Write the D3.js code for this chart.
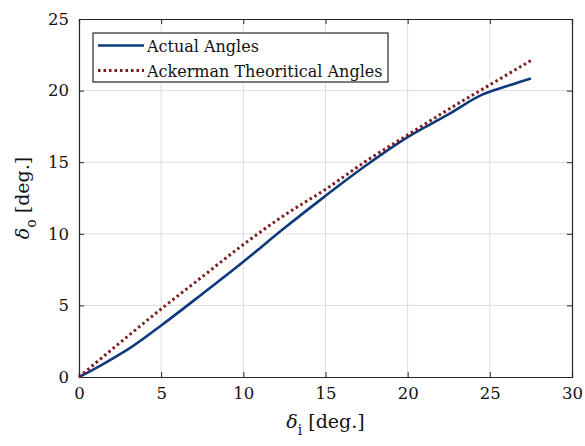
<!DOCTYPE html>
<html><head><meta charset="utf-8">
<script src="https://cdn.jsdelivr.net/npm/d3@7"></script>
<style>body{margin:0;background:#fff}svg{display:block}text{font-family:"DejaVu Serif",serif;fill:#111}</style>
</head><body><div id="c"></div>
<script>
const xTicks = [0,5,10,15,20,25,30];
const yTicks = [0,5,10,15,20,25];
const actualX = [0,1,2.5,3,5,7.5,10,12.5,15,17.5,20,22.5,24.5,26,27.5];
const actualY = [0,0.6,1.6,1.95,3.6,5.8,8.05,10.4,12.65,14.8,16.75,18.35,19.7,20.3,20.85];
const ackX = [0,2.5,5,7.5,10,12.5,15,17.5,20,22.5,25,27.5];
const ackY = [0,2.4,4.75,7.0,9.25,11.3,13.1,15.1,16.9,18.7,20.4,22.1];
const seriesNames = ["Actual Angles","Ackerman Theoritical Angles"];

const W=585,H=446, L=79,R=572,T=19,B=377;
const svg=d3.select("#c").append("svg").attr("width",W).attr("height",H);
const x=d3.scaleLinear().domain([0,30]).range([L,R]);
const y=d3.scaleLinear().domain([0,25]).range([B,T]);

// grid
svg.append("g").selectAll("line").data(xTicks.slice(1,-1)).join("line")
 .attr("x1",d=>x(d)).attr("x2",d=>x(d)).attr("y1",T).attr("y2",B).attr("stroke","#dcdcdc").attr("stroke-width",1);
svg.append("g").selectAll("line").data(yTicks.slice(1,-1)).join("line")
 .attr("y1",d=>y(d)).attr("y2",d=>y(d)).attr("x1",L).attr("x2",R).attr("stroke","#dcdcdc").attr("stroke-width",1);

// axes
const ax=svg.append("g").attr("transform",`translate(0,${B})`).call(d3.axisBottom(x).tickValues(xTicks).tickSize(-5).tickPadding(10));
const ay=svg.append("g").attr("transform",`translate(${L},0)`).call(d3.axisLeft(y).tickValues(yTicks).tickSize(-5).tickPadding(10));
const at=svg.append("g").attr("transform",`translate(0,${T})`).call(d3.axisTop(x).tickValues(xTicks).tickSize(-5).tickFormat(""));
const ar=svg.append("g").attr("transform",`translate(${R},0)`).call(d3.axisRight(y).tickValues(yTicks).tickSize(-5).tickFormat(""));
[ax,ay,at,ar].forEach(g=>{g.select(".domain").attr("stroke","#262626").attr("stroke-width",1.2);
 g.selectAll(".tick line").attr("stroke","#262626");
 g.selectAll("text").style("font-family",'"DejaVu Serif",serif').style("font-size","16.5px").attr("fill","#111");});

// lines
const line=d3.line().x(d=>x(d[0])).y(d=>y(d[1])).curve(d3.curveMonotoneX);
svg.append("path").datum(actualX.map((v,i)=>[v,actualY[i]])).attr("d",line)
 .attr("fill","none").attr("stroke","#0e3a7c").attr("stroke-width",2.6);
svg.append("path").datum(ackX.map((v,i)=>[v,ackY[i]])).attr("d",line)
 .attr("fill","none").attr("stroke","#7d1a1a").attr("stroke-width",3).attr("stroke-dasharray","2.5,3");

// legend
const lg=svg.append("g");
lg.append("rect").attr("x",93).attr("y",33).attr("width",295).attr("height",49).attr("fill","#fff").attr("stroke","#262626").attr("stroke-width",1.2);
lg.append("line").attr("x1",98).attr("x2",144).attr("y1",45.5).attr("y2",45.5).attr("stroke","#0e3a7c").attr("stroke-width",2.6);
lg.append("line").attr("x1",98).attr("x2",144).attr("y1",70.5).attr("y2",70.5).attr("stroke","#7d1a1a").attr("stroke-width",3).attr("stroke-dasharray","2.5,3");
lg.append("text").attr("x",147).attr("y",51.5).attr("font-size",16).text(seriesNames[0]);
lg.append("text").attr("x",147).attr("y",76.5).attr("font-size",16).text(seriesNames[1]);

// axis labels
const xl=svg.append("text").attr("x",(L+R)/2).attr("y",428).attr("text-anchor","middle").attr("font-size",19);
xl.append("tspan").attr("font-style","italic").text("δ");
xl.append("tspan").attr("dy",7).attr("font-size",14).text("i");
xl.append("tspan").attr("dy",-7).text(" [deg.]");
const yl=svg.append("text").attr("transform",`translate(29,${(T+B)/2}) rotate(-90)`).attr("text-anchor","middle").attr("font-size",19);
yl.append("tspan").attr("font-style","italic").text("δ");
yl.append("tspan").attr("dy",7).attr("font-size",14).text("o");
yl.append("tspan").attr("dy",-7).text(" [deg.]");
</script></body></html>
